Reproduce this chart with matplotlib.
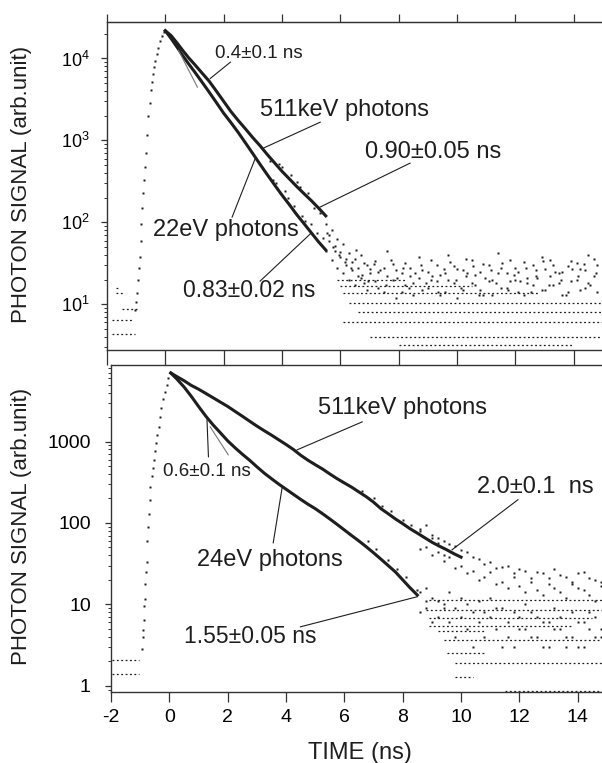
import numpy as np
import matplotlib
matplotlib.use('Agg')
import matplotlib.pyplot as plt
from matplotlib.ticker import LogLocator, NullFormatter, FixedLocator, FixedFormatter, MultipleLocator

plt.rcParams['font.family'] = ['Liberation Sans', 'DejaVu Sans']

INK = '#1e1e1e'

# ---------------- upper panel: 511 keV vs 22 eV ----------------
rise_a_t = [-1.05, -1.0, -0.97, -0.94, -0.91, -0.88, -0.85, -0.82, -0.79, -0.76, -0.73,
            -0.70, -0.66, -0.62, -0.58, -0.54, -0.50, -0.46, -0.42, -0.38, -0.34, -0.29,
            -0.24, -0.18, -0.12, -0.06]
rise_a_v = [8.5, 10.7, 13.8, 20, 28, 38, 60, 95, 150, 230, 330, 480, 700, 1150, 2000,
            2900, 4100, 5200, 6400, 7800, 9300, 11300, 13600, 16300, 18800, 20800]

decay_t_a = [0.0, 0.2, 0.4, 0.6, 0.8, 1.0, 1.25, 1.5, 1.75, 2.0, 2.25, 2.5, 2.75, 3.0,
             3.25, 3.5, 3.75, 4.0, 4.25, 4.5, 4.75, 5.0, 5.25, 5.5]
kev511_a = [21800, 19000, 15500, 12500, 10200, 8500, 6700, 5300, 4000, 3000, 2250, 1750,
            1380, 1080, 860, 670, 530, 420, 340, 275, 225, 185, 150, 120]
ev22_a = [21800, 17500, 13800, 10800, 8600, 6900, 5200, 3900, 2900, 2150, 1650, 1250,
          930, 690, 510, 380, 285, 215, 165, 125, 97, 75, 58, 46]

# jagged ends of the two decay bands
band_a_t = [3.6, 3.7, 3.8, 3.9, 4.0, 4.1, 4.2, 4.3, 4.4, 4.5, 4.6, 4.7, 4.8, 4.9, 5.0,
            5.1, 5.2, 5.3, 5.4]
band_a_v = [560, 330, 300, 520, 470, 240, 200, 380, 160, 310, 270, 120, 105, 230, 95,
            150, 75, 130, 65]

# background counts after the decay
tail_a_t = [5.5, 5.6, 5.7, 5.8, 5.9, 6.0, 6.1, 6.2, 6.3, 6.4, 6.5, 6.6, 6.7, 6.8, 6.9, 7.0,
            7.2, 7.3, 7.5, 7.6, 7.8, 7.9, 8.1, 8.2, 8.4, 8.5, 8.7, 8.8, 9.0, 9.1, 9.3, 9.4,
            9.6, 9.7, 9.9, 10.0, 10.2, 10.3, 10.5, 10.6, 10.8, 10.9, 11.1, 11.2, 11.4, 11.5,
            11.7, 11.8, 12.0, 12.1, 12.3, 12.4, 12.6, 12.7, 12.9, 13.0, 13.2, 13.3, 13.5,
            13.6, 13.8, 13.9, 14.1, 14.2, 14.4, 14.5, 14.7, 14.8]
tail_a_511 = [95, 60, 80, 45, 62, 38, 55, 30, 42, 26, 36, 22, 40, 18, 30, 24, 34, 16, 28,
              45, 20, 26, 14, 32, 22, 18, 38, 15, 25, 20, 30, 13, 24, 40, 18, 27, 15, 22,
              35, 17, 25, 13, 30, 20, 42, 16, 24, 19, 28, 14, 33, 21, 17, 26, 38, 15, 22,
              30, 18, 25, 14, 34, 20, 27, 16, 40, 22, 30]
tail_a_22 = [45, 70, 35, 52, 28, 44, 24, 36, 20, 33, 17, 28, 21, 32, 15, 27, 19, 25, 14,
             22, 31, 12, 24, 17, 28, 13, 21, 26, 16, 35, 19, 23, 14, 20, 29, 12, 26, 36,
             18, 23, 15, 31, 19, 13, 24, 28, 16, 35, 20, 25, 13, 18, 30, 22, 15, 27, 35,
             17, 24, 13, 29, 19, 32, 15, 26, 18, 36, 14]
tail_a_t2 = [5.55, 5.75, 5.95, 6.15, 6.35, 6.55, 6.75, 6.95, 7.15, 7.35, 7.55, 7.75, 7.95,
             8.15, 8.35, 8.55, 8.75, 8.95, 9.15, 9.35, 9.55, 9.75, 9.95, 10.15, 10.35,
             10.55, 10.75, 10.95, 11.15, 11.35, 11.55, 11.75, 11.95, 12.15, 12.35, 12.55,
             12.75, 12.95, 13.15, 13.35, 13.55, 13.75, 13.95, 14.15, 14.35, 14.55, 14.75]
tail_a_mix = [75, 50, 40, 33, 28, 46, 23, 19, 31, 26, 17, 35, 21, 28, 16, 24, 30, 18, 22,
              14, 27, 33, 20, 16, 24, 29, 13, 21, 26, 18, 32, 15, 23, 19, 28, 14, 21, 34,
              17, 25, 20, 13, 27, 22, 31, 17, 24]

# quantised count levels (level, start, end)
rows_a_lvl = [15.6, 13.8, 8.7, 6.4, 4.3, 19.8, 16.5, 13.8, 10.3, 8.0, 6.1, 4.0, 3.2]
rows_a_t0 = [-1.68, -1.68, -1.50, -1.83, -1.83, 5.9, 6.0, 6.1, 6.3, 6.6, 6.1, 7.0, 8.0]
rows_a_t1 = [-1.60, -1.43, -0.92, -1.10, -1.03, 8.3, 10.5, 12.8, 15.0, 15.0, 15.0, 15.0, 14.0]

# ---------------- lower panel: 511 keV vs 24 eV ----------------
rise_b_t = [-0.95, -0.92, -0.90, -0.88, -0.86, -0.84, -0.82, -0.80, -0.78, -0.76, -0.74,
            -0.71, -0.68, -0.65, -0.61, -0.57, -0.53, -0.49, -0.45, -0.41, -0.37, -0.32,
            -0.27, -0.21, -0.15, -0.09, -0.03]
rise_b_v = [2.8, 4.0, 4.9, 6.5, 9.5, 11.5, 18, 25, 33, 60, 90, 130, 190, 280, 380, 480,
            600, 760, 950, 1200, 1530, 2000, 2600, 3300, 4100, 5000, 6000]

decay_t_b = [0.05, 0.25, 0.5, 0.75, 1.0, 1.25, 1.5, 1.75, 2.0, 2.25, 2.5, 2.75, 3.0, 3.25,
             3.5, 3.75, 4.0, 4.25, 4.5, 4.75, 5.0, 5.25, 5.5, 5.75, 6.0, 6.25, 6.5, 6.75,
             7.0, 7.25, 7.5, 7.75, 8.0, 8.25, 8.5, 8.75, 9.0, 9.25, 9.5, 9.75, 10.0]
kev511_b = [6950, 6300, 5600, 4900, 4400, 3900, 3450, 3050, 2700, 2350, 2050, 1780, 1550,
            1360, 1200, 1050, 920, 800, 680, 590, 520, 460, 400, 350, 310, 275, 240, 210,
            180, 150, 130, 112, 98, 85, 75, 66, 58, 52, 47, 42, 38]
ev24_b = [6950, 5900, 4700, 3600, 2700, 2050, 1600, 1280, 1020, 840, 700, 590, 490, 410,
          350, 300, 260, 225, 195, 170, 150, 130, 112, 96, 82, 70, 60, 51, 43, 36, 30, 25,
          20, 16, 13]

band_b_t = [6.6, 6.8, 7.0, 7.1, 7.3, 7.5, 7.6, 7.8, 8.0, 8.1, 8.3, 8.5, 8.6, 8.8, 9.0, 9.2, 9.4]
band_b_v = [250, 60, 205, 48, 160, 35, 140, 27, 110, 22, 95, 15, 80, 11, 65, 56, 40]

tail_b_t = [8.6, 8.8, 9.0, 9.2, 9.4, 9.6, 9.8, 10.0, 10.2, 10.4, 10.6, 10.8, 11.0, 11.2,
            11.4, 11.6, 11.8, 12.0, 12.2, 12.4, 12.6, 12.8, 13.0, 13.2, 13.4, 13.6, 13.8,
            14.0, 14.2, 14.4, 14.6, 14.8]
tail_b_511 = [85, 50, 72, 44, 60, 38, 52, 30, 44, 26, 36, 22, 33, 28, 19, 30, 24, 17, 26,
              21, 15, 24, 18, 27, 14, 22, 19, 16, 25, 13, 20, 17]
tail_b_511x = [48, 95, 40, 65, 34, 55, 28, 46, 24, 38, 20, 31, 25, 18, 29, 16, 22, 27, 14,
               19, 25, 13, 21, 16, 23, 12, 18, 24, 15, 21, 11, 19]
tail_b_24 = [14, 9, 12, 7, 10, 6, 9, 12, 5, 8, 11, 4, 7, 9, 3, 6, 8, 5, 10, 4, 7, 3, 6, 9,
             5, 4, 8, 3, 6, 5, 7, 4]
tail_b_24x = [8, 16, 6, 11, 9, 14, 4, 7, 10, 3, 6, 8, 12, 5, 9, 4, 3, 7, 5, 8, 4, 6, 3, 5,
              7, 3, 4, 6, 3, 8, 4, 5]

rows_b_lvl = [2.1, 1.4, 11.3, 8.6, 6.8, 5.4, 4.7, 3.7, 2.5, 1.9, 1.3, 0.87]
rows_b_t0 = [-1.95, -1.95, 8.9, 8.8, 8.9, 8.9, 9.2, 9.4, 9.5, 9.8, 9.8, 11.5]
rows_b_t1 = [-1.05, -1.05, 15.0, 15.0, 14.5, 13.8, 10.8, 15.0, 10.8, 15.0, 10.4, 15.0]

fig = plt.figure(figsize=(6.02, 7.63), dpi=100)
ax1 = fig.add_axes([0.1777, 0.5413, 0.8223, 0.4299])
ax2 = fig.add_axes([0.1844, 0.0931, 0.8156, 0.4286])


def dots(ax, t, v, ms=1.8):
    ax.plot(t, v, 's', ms=ms, color=INK, mec='none')


def rows(ax, lvl, t0, t1):
    for y, a, b in zip(lvl, t0, t1):
        ax.plot([a, b], [y, y], color=INK, lw=0.9, ls=(0, (1.5, 2.0)))


# upper panel data
dots(ax1, rise_a_t, rise_a_v)
ax1.plot(decay_t_a, kev511_a, '-', color=INK, lw=2.2)
ax1.plot(decay_t_a, ev22_a, '-', color=INK, lw=2.2)
dots(ax1, band_a_t, band_a_v, 1.7)
dots(ax1, tail_a_t, tail_a_511)
dots(ax1, tail_a_t, tail_a_22)
dots(ax1, tail_a_t2, tail_a_mix)
rows(ax1, rows_a_lvl, rows_a_t0, rows_a_t1)

# lower panel data
dots(ax2, rise_b_t, rise_b_v)
ax2.plot(decay_t_b, kev511_b, '-', color=INK, lw=2.2)
ax2.plot(decay_t_b[:len(ev24_b)], ev24_b, '-', color=INK, lw=2.2)
dots(ax2, band_b_t, band_b_v, 1.7)
dots(ax2, tail_b_t, tail_b_511)
dots(ax2, tail_b_t, tail_b_511x)
dots(ax2, tail_b_t, tail_b_24)
dots(ax2, tail_b_t, tail_b_24x)
rows(ax2, rows_b_lvl, rows_b_t0, rows_b_t1)

# axes
for ax, ylim, right in ((ax1, (2.77, 27900), 14.97), (ax2, (0.84, 8730), 14.83)):
    ax.set_yscale('log')
    ax.set_xlim(-2, right)
    ax.set_ylim(*ylim)
    ax.spines['right'].set_visible(False)
    for s in ax.spines.values():
        s.set_color('#333333')
        s.set_linewidth(1.0)
    ax.xaxis.set_major_locator(MultipleLocator(2))
    ax.yaxis.set_minor_locator(LogLocator(subs=np.arange(2, 10)))
    ax.yaxis.set_minor_formatter(NullFormatter())
    ax.tick_params(axis='y', which='major', direction='out', length=4.5, width=0.9,
                   color='#333333', labelsize=14, pad=8)
    ax.tick_params(axis='y', which='minor', direction='out', length=2.5, width=0.7,
                   color='#333333')

# top panel: ticks on top and joining ticks below
ax1.tick_params(axis='x', which='major', direction='out', length=10.8, width=0.9,
                color='#333333', labelbottom=False)
top = ax1.secondary_xaxis('top')
top.xaxis.set_major_locator(MultipleLocator(2))
top.tick_params(axis='x', direction='out', length=5.8, width=0.9, color='#333333',
                labeltop=False)
top.spines['top'].set_color('#333333')
ax1.yaxis.set_major_locator(FixedLocator([10, 100, 1000, 10000]))
ax1.tick_params(axis='y', which='major', labelsize=13)

ax2.tick_params(axis='x', which='major', direction='out', length=7.2, width=0.9,
                color='#333333', labelsize=14, pad=5)
ax2.yaxis.set_major_locator(FixedLocator([1, 10, 100, 1000]))
ax2.yaxis.set_major_formatter(FixedFormatter(['1', '10', '100', '1000']))
ax2.tick_params(axis='y', which='major', pad=10)
ax2.set_xticks(range(-2, 15, 2))
ax2.set_xticklabels(['-2', '0', '2', '4', '6', '8', '10', '12', '14'])

# labels and leader lines
def note(ax, txt, xy, size=16.5):
    ax.text(xy[0], xy[1], txt, fontsize=size, color=INK, ha='center', va='center')


def lead(ax, p, q, color=INK, lw=0.8):
    ax.plot([p[0], q[0]], [p[1], q[1]], color=color, lw=lw)


note(ax1, '0.4\u00b10.1 ns', (3.22, 11450), 13.5)
lead(ax1, (2.23, 9010), (1.54, 5700))
lead(ax1, (0.45, 12600), (1.10, 4470), color='#777777', lw=0.8)
note(ax1, '511keV photons', (6.13, 2340), 17)
lead(ax1, (5.31, 1670), (3.36, 805))
note(ax1, '0.90\u00b10.05 ns', (9.18, 718), 17)
lead(ax1, (8.39, 528), (5.31, 154))
note(ax1, '22eV photons', (2.09, 80.5), 17)
lead(ax1, (2.29, 116), (3.08, 600))
note(ax1, '0.83\u00b10.02 ns', (2.88, 14.9), 16.5)
lead(ax1, (3.25, 19.2), (5.0, 74))

note(ax2, '511keV photons', (7.98, 2590), 17)
lead(ax2, (6.61, 1745), (4.38, 791))
note(ax2, '2.0\u00b10.1  ns', (12.53, 278), 17)
lead(ax2, (11.95, 193), (9.69, 46.9))
note(ax2, '0.6\u00b10.1 ns', (1.27, 425), 13.5)
lead(ax2, (1.34, 649), (1.29, 1846))
lead(ax2, (2.02, 687), (1.40, 1515), color='#777777')
note(ax2, '24eV photons', (3.46, 35.3), 17)
lead(ax2, (3.56, 57), (3.87, 278))
note(ax2, '1.55\u00b10.05 ns', (2.77, 4.0), 16.5)
lead(ax2, (4.49, 5.3), (8.49, 12.4))

fig.text(22 / 602, 1 - 184 / 763, 'PHOTON SIGNAL (arb.unit)', rotation=90, fontsize=16,
         color=INK, ha='center', va='center')
fig.text(22 / 602, 1 - 526 / 763, 'PHOTON SIGNAL (arb.unit)', rotation=90, fontsize=16,
         color=INK, ha='center', va='center')
fig.text(360 / 602, 1 - 753 / 763, 'TIME (ns)', fontsize=17, color=INK,
         ha='center', va='center')

fig.savefig('out.png', dpi=100)
